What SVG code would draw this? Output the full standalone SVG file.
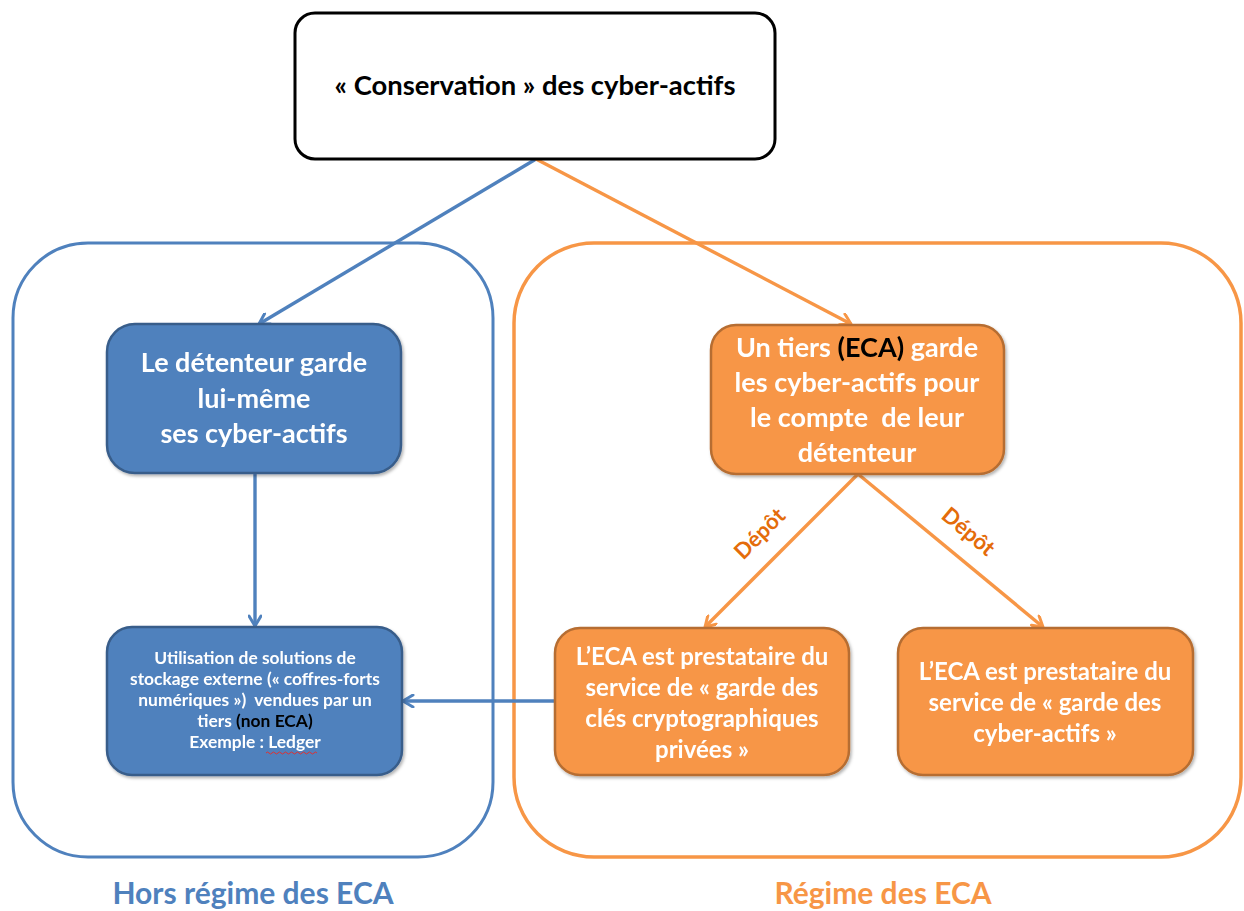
<svg xmlns="http://www.w3.org/2000/svg" width="1244" height="911" viewBox="0 0 1244 911">
<style>
  text { font-family: Lato, "Open Sans", "Liberation Sans", sans-serif; font-weight: bold; text-anchor: middle; }
  .pre { white-space: pre; }
  .w { fill: #ffffff; }
  .k { fill: #000000; }
  .bluefill { fill: #4F81BD; stroke: #385D8A; stroke-width: 2.5; }
  .orfill { fill: #F79646; stroke: #B66D31; stroke-width: 2.5; }
  .bl { stroke: #4F81BD; stroke-width: 3.4; fill: none; }
  .or { stroke: #F79646; stroke-width: 3.4; fill: none; }
</style>
<defs>
  <marker id="ab" viewBox="0 0 14 14" refX="12" refY="7" markerWidth="14" markerHeight="14" markerUnits="userSpaceOnUse" orient="auto">
    <path d="M2,1 L12,7 L2,13" fill="none" stroke="#4F81BD" stroke-width="3" stroke-linecap="round" stroke-linejoin="round"/>
  </marker>
  <marker id="ao" viewBox="0 0 14 14" refX="12" refY="7" markerWidth="14" markerHeight="14" markerUnits="userSpaceOnUse" orient="auto">
    <path d="M2,1 L12,7 L2,13" fill="none" stroke="#F79646" stroke-width="3" stroke-linecap="round" stroke-linejoin="round"/>
  </marker>
  <filter id="sh" x="-10%" y="-10%" width="130%" height="130%">
    <feDropShadow dx="1.5" dy="2" stdDeviation="1.5" flood-color="#000" flood-opacity="0.3"/>
  </filter>
</defs>
<rect width="1244" height="911" fill="#ffffff"/>

<g id="container-hors">
  <rect x="13" y="243" width="480" height="614" rx="75" ry="75" fill="none" stroke="#4F81BD" stroke-width="3"/>
  <text x="253" y="904" font-size="30" fill="#4F81BD">Hors régime des ECA</text>
</g>
<g id="container-regime">
  <rect x="514" y="243" width="727" height="614" rx="80" ry="80" fill="none" stroke="#F79646" stroke-width="3.5"/>
  <text x="883" y="904" font-size="30" fill="#F79646">Régime des ECA</text>
</g>

<g id="connectors">
  <line class="bl" x1="536" y1="159" x2="259" y2="324" marker-end="url(#ab)"/>
  <line class="or" x1="536" y1="159" x2="851" y2="324" marker-end="url(#ao)"/>
  <line class="bl" x1="255" y1="474" x2="255" y2="626" marker-end="url(#ab)"/>
  <line class="bl" x1="555" y1="701" x2="403" y2="701" marker-end="url(#ab)"/>
  <line class="or" x1="858" y1="474" x2="705" y2="627" marker-end="url(#ao)"/>
  <line class="or" x1="858" y1="474" x2="1043" y2="627" marker-end="url(#ao)"/>
  <text x="760" y="541" font-size="22" fill="#E46C0A" transform="rotate(-45 760 534)">Dépôt</text>
  <text x="968" y="539" font-size="22" fill="#E46C0A" transform="rotate(40 968 532)">Dépôt</text>
</g>

<g id="node-top">
  <rect x="295" y="13" width="480" height="146" rx="20" ry="20" fill="#ffffff" stroke="#000000" stroke-width="3"/>
  <text x="535" y="95" font-size="27.4" class="k">« Conservation » des cyber-actifs</text>
</g>

<g id="node-detenteur" filter="url(#sh)">
  <rect class="bluefill" x="107" y="324" width="294" height="149" rx="28" ry="28"/>
  <text x="254" y="372" font-size="27" class="w">Le détenteur garde</text>
  <text x="254" y="408" font-size="27" class="w">lui-même</text>
  <text x="254" y="443" font-size="27" class="w">ses cyber-actifs</text>
</g>

<g id="node-stockage" filter="url(#sh)">
  <rect class="bluefill" x="107" y="627" width="295" height="148" rx="25" ry="25"/>
  <text x="255" y="664" font-size="17.4" class="w">Utilisation de solutions de</text>
  <text x="255" y="685" font-size="17.4" class="w">stockage externe (« coffres-forts</text>
  <text x="255" y="706" font-size="17.4" class="w pre">numériques »)  vendues par un</text>
  <text x="255" y="727" font-size="17.4" class="w">tiers <tspan class="k">(non ECA)</tspan></text>
  <text x="255" y="748" font-size="17.4" class="w">Exemple : Ledger</text>
  <path d="M266,753 q1.5,-2 3,0 t3,0 t3,0 t3,0 t3,0 t3,0 t3,0 t3,0 t3,0 t3,0 t3,0 t3,0 t3,0 t3,0 t3,0 t3,0 t3,0" fill="none" stroke="#E03030" stroke-width="1"/>
</g>

<g id="node-tiers" filter="url(#sh)">
  <rect class="orfill" x="711" y="325" width="293" height="149" rx="25" ry="25"/>
  <text x="857" y="357" font-size="27" class="w">Un tiers <tspan class="k">(ECA)</tspan> garde</text>
  <text x="857" y="392" font-size="27" class="w">les cyber-actifs pour</text>
  <text x="857" y="427" font-size="27" class="w pre">le compte  de leur</text>
  <text x="857" y="462" font-size="27" class="w">détenteur</text>
</g>

<g id="node-cles" filter="url(#sh)">
  <rect class="orfill" x="555" y="628" width="294" height="147" rx="25" ry="25"/>
  <text x="702" y="665" font-size="24" class="w">L’ECA est prestataire du</text>
  <text x="702" y="696" font-size="24" class="w">service de « garde des</text>
  <text x="702" y="727" font-size="24" class="w">clés cryptographiques</text>
  <text x="702" y="758" font-size="24" class="w">privées »</text>
</g>

<g id="node-garde" filter="url(#sh)">
  <rect class="orfill" x="898" y="628" width="295" height="147" rx="25" ry="25"/>
  <text x="1045" y="680" font-size="24" class="w">L’ECA est prestataire du</text>
  <text x="1045" y="711" font-size="24" class="w">service de « garde des</text>
  <text x="1045" y="742" font-size="24" class="w">cyber-actifs »</text>
</g>
</svg>
